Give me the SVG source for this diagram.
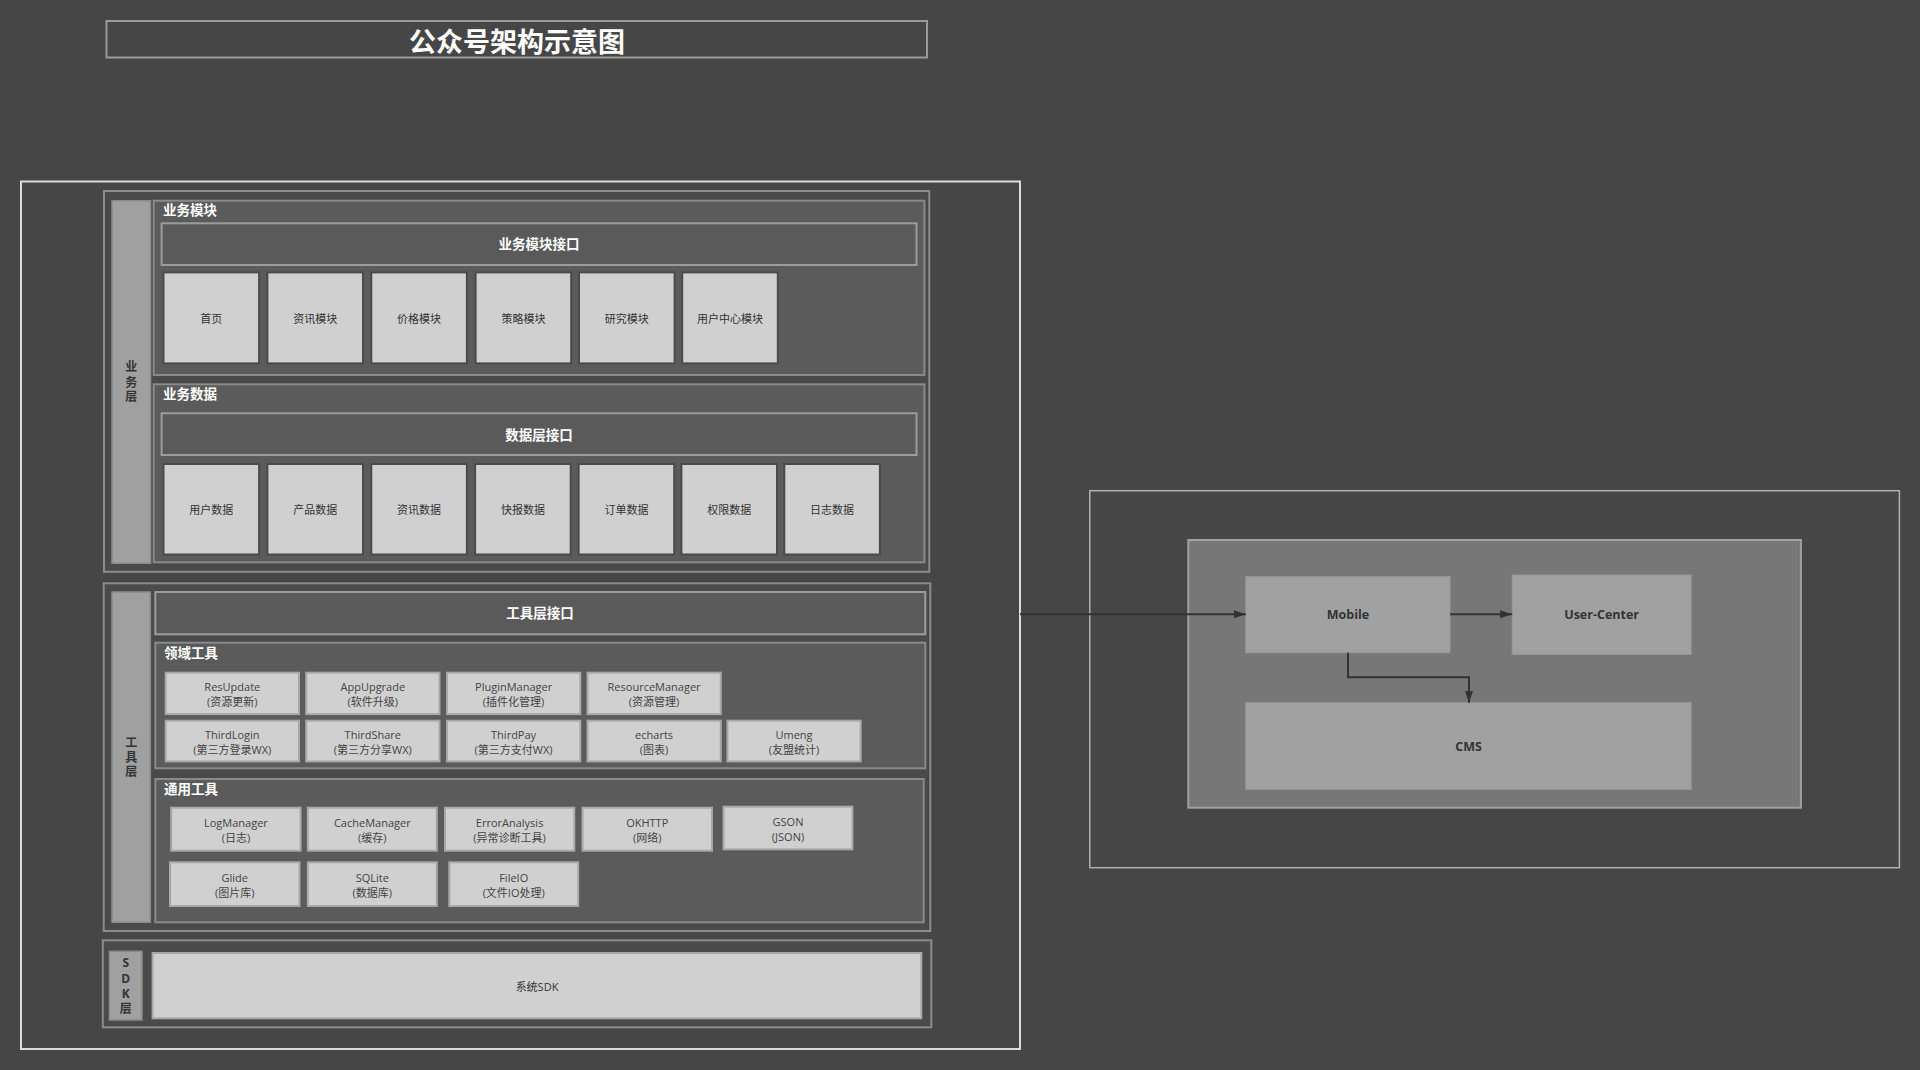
<svg xmlns="http://www.w3.org/2000/svg" width="1920" height="1070" viewBox="0 0 1920 1070">
<defs>
<style>
text{font-family:"Open Sans","Noto Sans CJK SC","Noto Sans",sans-serif;text-anchor:middle;dominant-baseline:central}
.title{font-size:27px;font-weight:bold;fill:#ffffff}
.lbl{font-size:13.5px;font-weight:bold;fill:#ffffff;text-anchor:start}
.ifc{font-size:13.5px;font-weight:bold;fill:#ffffff}
.side{font-size:12px;font-weight:bold;fill:#333333}
.mod{font-size:11px;fill:#333333}
.tool{font-size:11px;fill:#444444}
.rn{font-size:12.5px;font-weight:bold;fill:#333333}
.layer{fill:#4a4a4a;stroke:#8c8c8c;stroke-width:2}
.sub{fill:#5b5b5b;stroke:#8a8a8a;stroke-width:2}
.ifbox{fill:#5a5a5a;stroke:#9c9c9c;stroke-width:2}
.bar{fill:#a0a0a0;stroke:#8a8a8a;stroke-width:1.5}
.modbox{fill:#d0d0d0;stroke:#4a4a4a;stroke-width:2}
.toolbox{fill:#d0d0d0;stroke:#a8a8a8;stroke-width:2}
.rbox{fill:#a1a1a1;stroke:#999999;stroke-width:1}
.conn{fill:none;stroke:#333333;stroke-width:2}
</style>
<marker id="arr" markerUnits="userSpaceOnUse" markerWidth="12" markerHeight="8" refX="12" refY="4" orient="auto">
<path d="M0,0 L12,4 L0,8 z" fill="#333333"/>
</marker>
</defs>
<rect x="0" y="0" width="1920" height="1070" fill="#464646"/>

<g id="title">
<rect x="106.5" y="21" width="820.5" height="36.5" fill="none" stroke="#9a9a9a" stroke-width="2"/>
<text class="title" x="517" y="41">公众号架构示意图</text>
</g>

<g id="architecture">
<rect x="21" y="181.5" width="999" height="867.5" fill="none" stroke="#dcdcdc" stroke-width="2"/>
</g>

<g id="business-layer">
<rect class="layer" x="104" y="191" width="825.3" height="380.8"/>
<rect class="bar" x="112" y="200.7" width="38.6" height="362.6"/>
<text class="side" x="131.3" y="366.7">业</text>
<text class="side" x="131.3" y="382">务</text>
<text class="side" x="131.3" y="396.7">层</text>
</g>

<g id="business-modules">
<rect class="sub" x="153.7" y="200.7" width="770.7" height="174.3"/>
<text class="lbl" x="163" y="210.3">业务模块</text>
</g>
<g id="business-module-interface">
<rect class="ifbox" x="161.6" y="223.3" width="754.9" height="41.7"/>
<text class="ifc" x="539" y="244">业务模块接口</text>
</g>
<g id="m-home"><rect class="modbox" x="163.5" y="272.4" width="95.6" height="91"/><text class="mod" x="211.3" y="318">首页</text></g>
<g id="m-news"><rect class="modbox" x="267.4" y="272.4" width="95.6" height="91"/><text class="mod" x="315.2" y="318">资讯模块</text></g>
<g id="m-price"><rect class="modbox" x="371.3" y="272.4" width="95.6" height="91"/><text class="mod" x="419.1" y="318">价格模块</text></g>
<g id="m-strategy"><rect class="modbox" x="475.6" y="272.4" width="95.6" height="91"/><text class="mod" x="523.4" y="318">策略模块</text></g>
<g id="m-research"><rect class="modbox" x="579" y="272.4" width="95.6" height="91"/><text class="mod" x="626.8" y="318">研究模块</text></g>
<g id="m-usercenter"><rect class="modbox" x="682.2" y="272.4" width="95.6" height="91"/><text class="mod" x="730" y="318">用户中心模块</text></g>

<g id="business-data">
<rect class="sub" x="153.7" y="384.3" width="770.7" height="178"/>
<text class="lbl" x="163" y="394">业务数据</text>
</g>
<g id="data-interface">
<rect class="ifbox" x="161.6" y="413.3" width="754.9" height="41.7"/>
<text class="ifc" x="539" y="434.5">数据层接口</text>
</g>
<g id="d-user"><rect class="modbox" x="163.5" y="464" width="95.6" height="90.5"/><text class="mod" x="211.3" y="509.3">用户数据</text></g>
<g id="d-product"><rect class="modbox" x="267.4" y="464" width="95.6" height="90.5"/><text class="mod" x="315.2" y="509.3">产品数据</text></g>
<g id="d-news"><rect class="modbox" x="371.3" y="464" width="95.6" height="90.5"/><text class="mod" x="419.1" y="509.3">资讯数据</text></g>
<g id="d-flash"><rect class="modbox" x="475.1" y="464" width="95.6" height="90.5"/><text class="mod" x="522.9" y="509.3">快报数据</text></g>
<g id="d-order"><rect class="modbox" x="578.6" y="464" width="95.6" height="90.5"/><text class="mod" x="626.4" y="509.3">订单数据</text></g>
<g id="d-perm"><rect class="modbox" x="681.4" y="464" width="95.6" height="90.5"/><text class="mod" x="729.2" y="509.3">权限数据</text></g>
<g id="d-log"><rect class="modbox" x="784.3" y="464" width="95.6" height="90.5"/><text class="mod" x="832.1" y="509.3">日志数据</text></g>

<g id="tool-layer">
<rect class="layer" x="103.7" y="583.3" width="826.6" height="347.7"/>
<rect class="bar" x="112" y="592" width="38.3" height="330.3"/>
<text class="side" x="131.2" y="742">工</text>
<text class="side" x="131.2" y="757">具</text>
<text class="side" x="131.2" y="771.5">层</text>
</g>
<g id="tool-interface">
<rect class="ifbox" x="155.3" y="592" width="770" height="42.3"/>
<text class="ifc" x="540" y="613.3">工具层接口</text>
</g>

<g id="domain-tools">
<rect class="sub" x="155.3" y="642.7" width="770" height="125.6"/>
<text class="lbl" x="164" y="652.5">领域工具</text>
</g>
<g id="t-resupdate"><rect class="toolbox" x="165.7" y="672.7" width="133.3" height="41.4"/><text class="tool" x="232.3" y="686.8">ResUpdate</text><text class="tool" x="232.3" y="701.5">(资源更新)</text></g>
<g id="t-appupgrade"><rect class="toolbox" x="306.2" y="672.7" width="133.3" height="41.4"/><text class="tool" x="372.8" y="686.8">AppUpgrade</text><text class="tool" x="372.8" y="701.5">(软件升级)</text></g>
<g id="t-pluginmanager"><rect class="toolbox" x="447" y="672.7" width="133.3" height="41.4"/><text class="tool" x="513.6" y="686.8">PluginManager</text><text class="tool" x="513.6" y="701.5">(插件化管理)</text></g>
<g id="t-resourcemanager"><rect class="toolbox" x="587.5" y="672.7" width="133.3" height="41.4"/><text class="tool" x="654.1" y="686.8">ResourceManager</text><text class="tool" x="654.1" y="701.5">(资源管理)</text></g>
<g id="t-thirdlogin"><rect class="toolbox" x="165.7" y="720.7" width="133.3" height="40.7"/><text class="tool" x="232.3" y="734.6">ThirdLogin</text><text class="tool" x="232.3" y="749.2">(第三方登录WX)</text></g>
<g id="t-thirdshare"><rect class="toolbox" x="306.2" y="720.7" width="133.3" height="40.7"/><text class="tool" x="372.8" y="734.6">ThirdShare</text><text class="tool" x="372.8" y="749.2">(第三方分享WX)</text></g>
<g id="t-thirdpay"><rect class="toolbox" x="447" y="720.7" width="133.3" height="40.7"/><text class="tool" x="513.6" y="734.6">ThirdPay</text><text class="tool" x="513.6" y="749.2">(第三方支付WX)</text></g>
<g id="t-echarts"><rect class="toolbox" x="587.5" y="720.7" width="133.3" height="40.7"/><text class="tool" x="654.1" y="734.6">echarts</text><text class="tool" x="654.1" y="749.2">(图表)</text></g>
<g id="t-umeng"><rect class="toolbox" x="727.4" y="720.7" width="133.3" height="40.7"/><text class="tool" x="794" y="734.6">Umeng</text><text class="tool" x="794" y="749.2">(友盟统计)</text></g>

<g id="common-tools">
<rect class="sub" x="155.3" y="779" width="768.4" height="143.3"/>
<text class="lbl" x="164" y="789">通用工具</text>
</g>
<g id="t-logmanager"><rect class="toolbox" x="171.2" y="807.7" width="129.4" height="43"/><text class="tool" x="235.9" y="822.7">LogManager</text><text class="tool" x="235.9" y="837.3">(日志)</text></g>
<g id="t-cachemanager"><rect class="toolbox" x="307.8" y="807.7" width="129" height="43"/><text class="tool" x="372.3" y="822.7">CacheManager</text><text class="tool" x="372.3" y="837.3">(缓存)</text></g>
<g id="t-erroranalysis"><rect class="toolbox" x="445" y="807.7" width="129.3" height="43"/><text class="tool" x="509.6" y="822.7">ErrorAnalysis</text><text class="tool" x="509.6" y="837.3">(异常诊断工具)</text></g>
<g id="t-okhttp"><rect class="toolbox" x="582.5" y="807.7" width="129.5" height="43"/><text class="tool" x="647.2" y="822.7">OKHTTP</text><text class="tool" x="647.2" y="837.3">(网络)</text></g>
<g id="t-gson"><rect class="toolbox" x="723.5" y="806.7" width="128.9" height="42.6"/><text class="tool" x="788" y="821.5">GSON</text><text class="tool" x="788" y="836">(JSON)</text></g>
<g id="t-glide"><rect class="toolbox" x="170" y="862.3" width="129.5" height="43.7"/><text class="tool" x="234.7" y="877.6">Glide</text><text class="tool" x="234.7" y="892.2">(图片库)</text></g>
<g id="t-sqlite"><rect class="toolbox" x="307.8" y="862.3" width="129" height="43.7"/><text class="tool" x="372.3" y="877.6">SQLite</text><text class="tool" x="372.3" y="892.2">(数据库)</text></g>
<g id="t-fileio"><rect class="toolbox" x="449.3" y="862.3" width="128.9" height="43.7"/><text class="tool" x="513.7" y="877.6">FileIO</text><text class="tool" x="513.7" y="892.2">(文件IO处理)</text></g>

<g id="sdk-layer">
<rect class="layer" x="102.8" y="940.3" width="828.5" height="87"/>
<rect class="bar" x="109.4" y="951.3" width="32.6" height="68.7"/>
<text class="side" x="125.7" y="962.7">S</text>
<text class="side" x="125.7" y="978.3">D</text>
<text class="side" x="125.7" y="993.3">K</text>
<text class="side" x="125.7" y="1008.3">层</text>
</g>
<g id="system-sdk">
<rect class="toolbox" x="152.6" y="953" width="768.7" height="65.3"/>
<text class="mod" x="537" y="986">系统SDK</text>
</g>

<g id="server">
<rect x="1089.8" y="490.7" width="809.6" height="377" fill="none" stroke="#b0b0b0" stroke-width="1.5"/>
</g>
<g id="server-inner">
<rect x="1188.3" y="540" width="612.6" height="267.7" fill="#777777" stroke="#a0a0a0" stroke-width="2"/>
</g>
<g id="mobile">
<rect class="rbox" x="1245.8" y="576.7" width="204.2" height="76"/>
<text class="rn" x="1348" y="614.7">Mobile</text>
</g>
<g id="user-center">
<rect class="rbox" x="1512.2" y="575" width="178.9" height="79.3"/>
<text class="rn" x="1601.6" y="614.7">User-Center</text>
</g>
<g id="cms">
<rect class="rbox" x="1245.8" y="702.7" width="445.3" height="86.6"/>
<text class="rn" x="1468.5" y="746">CMS</text>
</g>

<g id="connectors">
<path class="conn" d="M1020,614.3 L1245.8,614.3" marker-end="url(#arr)"/>
<path class="conn" d="M1450,614.3 L1512.2,614.3" marker-end="url(#arr)"/>
<path class="conn" d="M1348,652.7 L1348,677.3 L1469,677.3 L1469,702.7" marker-end="url(#arr)"/>
</g>
</svg>
